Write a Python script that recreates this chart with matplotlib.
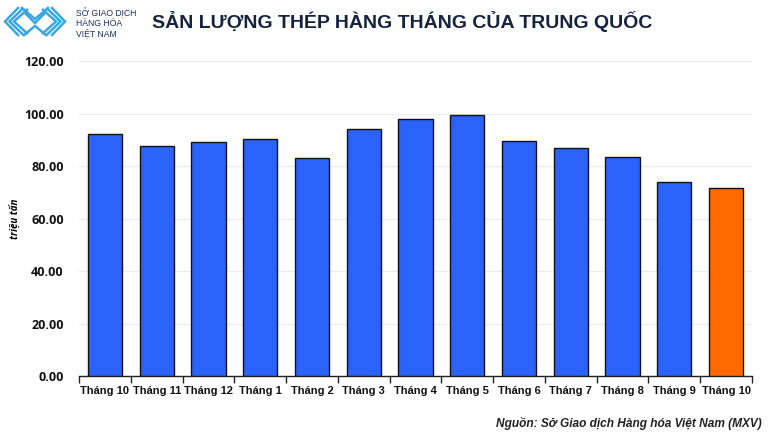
import matplotlib.pyplot as plt
from matplotlib.ticker import FixedLocator, FormatStrFormatter

# du lieu
thang = ["Tháng 10", "Tháng 11", "Tháng 12", "Tháng 1", "Tháng 2", "Tháng 3", "Tháng 4",
         "Tháng 5", "Tháng 6", "Tháng 7", "Tháng 8", "Tháng 9", "Tháng 10"]
san_luong = [92.3, 87.6, 89.0, 90.1, 83.0, 94.0, 97.9, 99.4, 89.5, 86.9, 83.4, 73.8, 71.7]

xanh = "#2B62FA"
cam = "#FF6A00"
mau = [xanh] * (len(thang) - 1) + [cam]
hep = "Liberation Sans"

fig = plt.figure(figsize=(7.7, 4.33), dpi=100)
ax = fig.add_axes([0.1026, 0.1316, 0.874, 0.7275])

x = list(range(len(thang)))
ax.bar(x, san_luong, width=0.66, color=mau, edgecolor="#111111", linewidth=1, zorder=3)

ax.set_ylim(0, 120)
ax.set_xlim(-0.5, len(thang) - 0.5)
ax.set_yticks([0, 20, 40, 60, 80, 100, 120])
ax.yaxis.set_major_formatter(FormatStrFormatter("%.2f"))
ax.grid(axis="y", color="#ececec", linewidth=1, zorder=0)

ax.set_xticks(x)
ax.set_xticklabels(thang)
ax.xaxis.set_minor_locator(FixedLocator([i - 0.5 for i in range(len(thang) + 1)]))
ax.tick_params(axis="x", which="major", length=0, pad=7, labelsize=8)
ax.tick_params(axis="x", which="minor", length=5, width=1, color="#222222")
ax.tick_params(axis="y", length=0, pad=11, labelsize=9)
for t in ax.get_xticklabels():
    t.set_fontweight("bold")
    t.set_fontfamily(hep)
    t.set_color("#111111")
for t in ax.get_yticklabels():
    t.set_fontweight("bold")
    t.set_fontfamily("Open Sans")
    t.set_color("#111111")

for s in ["left", "right", "top"]:
    ax.spines[s].set_visible(False)
ax.spines["bottom"].set_color("#222222")
ax.spines["bottom"].set_linewidth(1)

ax.set_ylabel("triệu tấn", fontsize=7, fontstyle="italic", fontweight="bold",
              fontfamily="Open Sans")
ax.yaxis.set_label_coords(-0.087, 0.5)

# tieu de
fig.text(152 / 770, 1 - 22 / 433, "SẢN LƯỢNG THÉP HÀNG THÁNG CỦA TRUNG QUỐC", fontsize=14,
         fontweight="bold", color="#15233f", fontfamily=hep, va="center", ha="left")

# logo (don gian)
W, H = 770, 433
def duong(xs, ys):
    fig.add_artist(plt.Line2D([a / W for a in xs], [1 - b / H for b in ys],
                              color="#3aa6e0", linewidth=1.8, solid_joinstyle="miter"))
for k in range(3):
    d = k * 4.5
    duong([18 + d, 5 + d, 18 + d], [8 + d * 0.2, 21.5, 35 - d * 0.2])
    duong([52 - d, 65 - d, 52 - d], [8 + d * 0.2, 21.5, 35 - d * 0.2])
duong([22, 35, 48], [8, 19, 8])
duong([26, 35, 44], [14, 23, 14])
duong([24, 35, 46], [35, 26, 35])
for i, dong in enumerate(["SỞ GIAO DỊCH", "HÀNG HÓA", "VIỆT NAM"]):
    fig.text(76 / W, 1 - (13 + i * 10) / H, dong, fontsize=6.2, color="#1f2f5c",
             fontfamily=hep, va="center", ha="left")

# nguon
fig.text(762 / 770, 1 - 424 / 433, "Nguồn: Sở Giao dịch Hàng hóa Việt Nam (MXV)", fontsize=8.6,
         fontstyle="italic", fontweight="bold", color="#222222", fontfamily=hep,
         ha="right", va="center")

fig.savefig("out.png", dpi=100)
